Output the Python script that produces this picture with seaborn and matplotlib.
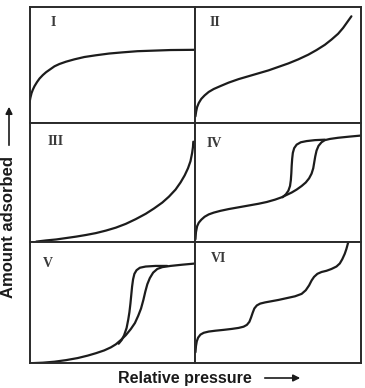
import matplotlib
matplotlib.use("Agg")
import matplotlib.pyplot as plt
import seaborn as sns
import pandas as pd

sns.set_style("white")
plt.rcParams['font.family'] = ['Liberation Sans', 'DejaVu Sans']

# ---- data (relative pressure 0..1, amount 0..1) ----
panel_labels = ["I", "II", "III", "IV", "V", "VI"]

I_x = [0.0, 0.005, 0.012, 0.02, 0.03, 0.045, 0.06, 0.08, 0.10, 0.125, 0.15, 0.18, 0.22,
       0.27, 0.33, 0.40, 0.48, 0.56, 0.65, 0.75, 0.85, 1.0]
I_y = [0.18, 0.22, 0.26, 0.29, 0.32, 0.355, 0.385, 0.415, 0.44, 0.465, 0.49, 0.51, 0.53,
       0.55, 0.57, 0.585, 0.60, 0.61, 0.62, 0.625, 0.63, 0.632]

II_x = [0.0, 0.004, 0.01, 0.02, 0.035, 0.055, 0.08, 0.11, 0.15, 0.20, 0.26, 0.32, 0.38,
        0.44, 0.50, 0.56, 0.62, 0.68, 0.73, 0.78, 0.82, 0.86, 0.89, 0.915, 0.94]
II_y = [0.06, 0.10, 0.14, 0.175, 0.21, 0.24, 0.27, 0.295, 0.32, 0.35, 0.38, 0.405, 0.43,
        0.455, 0.485, 0.515, 0.55, 0.59, 0.63, 0.675, 0.72, 0.77, 0.82, 0.87, 0.92]

III_x = [0.04, 0.10, 0.16, 0.22, 0.28, 0.34, 0.40, 0.46, 0.52, 0.58, 0.64, 0.70, 0.75, 0.80,
         0.84, 0.88, 0.91, 0.935, 0.955, 0.97, 0.98, 0.985, 0.987]
III_y = [0.0, 0.01, 0.018, 0.03, 0.042, 0.056, 0.072, 0.093, 0.118, 0.15, 0.19, 0.235, 0.28,
         0.33, 0.38, 0.44, 0.50, 0.56, 0.62, 0.68, 0.75, 0.80, 0.845]

IV_ads_x = [0.0, 0.003, 0.01, 0.02, 0.035, 0.055, 0.08, 0.11, 0.15, 0.20, 0.26, 0.32, 0.38,
            0.43, 0.48, 0.52, 0.55, 0.58, 0.61, 0.64, 0.665, 0.685, 0.70, 0.71, 0.716, 0.722,
            0.73, 0.742, 0.76, 0.78, 0.81, 0.86, 0.93, 1.0]
IV_ads_y = [0.02, 0.08, 0.13, 0.16, 0.185, 0.21, 0.23, 0.245, 0.26, 0.275, 0.29, 0.305, 0.32,
            0.335, 0.355, 0.375, 0.395, 0.415, 0.44, 0.47, 0.50, 0.535, 0.575, 0.62, 0.67, 0.72,
            0.77, 0.81, 0.84, 0.858, 0.868, 0.878, 0.888, 0.897]
IV_des_x = [0.78, 0.72, 0.67, 0.635, 0.61, 0.595, 0.587, 0.583, 0.58, 0.578, 0.575, 0.57,
            0.56, 0.545, 0.525]
IV_des_y = [0.862, 0.858, 0.85, 0.84, 0.82, 0.79, 0.75, 0.70, 0.64, 0.58, 0.52, 0.47,
            0.43, 0.40, 0.375]

V_ads_x = [0.01, 0.08, 0.15, 0.22, 0.29, 0.35, 0.40, 0.45, 0.49, 0.52, 0.55, 0.58, 0.61,
           0.635, 0.655, 0.672, 0.686, 0.698, 0.71, 0.725, 0.745, 0.77, 0.80, 0.85, 0.92, 1.0]
V_ads_y = [0.0, 0.004, 0.012, 0.025, 0.042, 0.062, 0.082, 0.105, 0.13, 0.155, 0.19, 0.23, 0.28,
           0.33, 0.39, 0.45, 0.52, 0.59, 0.65, 0.70, 0.745, 0.775, 0.79, 0.80, 0.81, 0.82]
V_des_x = [0.83, 0.76, 0.70, 0.665, 0.645, 0.632, 0.624, 0.618, 0.613, 0.608, 0.602, 0.595,
           0.585, 0.57, 0.555, 0.537]
V_des_y = [0.80, 0.80, 0.795, 0.785, 0.765, 0.735, 0.69, 0.63, 0.56, 0.49, 0.42, 0.36,
           0.29, 0.23, 0.19, 0.16]

VI_x = [0.0, 0.003, 0.008, 0.016, 0.03, 0.05, 0.08, 0.12, 0.17, 0.22, 0.26, 0.29, 0.31, 0.325,
        0.335, 0.345, 0.355, 0.37, 0.39, 0.42, 0.46, 0.50, 0.55, 0.60, 0.64, 0.665, 0.685, 0.70,
        0.715, 0.735, 0.76, 0.79, 0.82, 0.85, 0.87, 0.885, 0.90, 0.91, 0.918, 0.922]
VI_y = [0.09, 0.14, 0.18, 0.21, 0.235, 0.25, 0.26, 0.267, 0.274, 0.282, 0.29, 0.30, 0.315, 0.34,
        0.375, 0.415, 0.45, 0.475, 0.49, 0.50, 0.51, 0.52, 0.535, 0.55, 0.57, 0.60, 0.64, 0.68,
        0.71, 0.735, 0.75, 0.76, 0.775, 0.795, 0.82, 0.855, 0.90, 0.94, 0.98, 1.0]

curves = [
    [(I_x, I_y)],
    [(II_x, II_y)],
    [(III_x, III_y)],
    [(IV_ads_x, IV_ads_y), (IV_des_x, IV_des_y)],
    [(V_ads_x, V_ads_y), (V_des_x, V_des_y)],
    [(VI_x, VI_y)],
]
label_pos = [(0.14, 0.865), (0.115, 0.865), (0.16, 0.845), (0.115, 0.83), (0.11, 0.82), (0.14, 0.86)]

# ---- figure ----
fig, axes = plt.subplots(3, 2, figsize=(3.65, 3.88), dpi=100,
                         gridspec_kw=dict(height_ratios=[116.3, 118.2, 121.5]))
fig.subplots_adjust(left=0.081, right=0.990, top=0.982, bottom=0.064, wspace=0, hspace=0)

line_color = "#1c1c1c"
for i, ax in enumerate(axes.flat):
    for cx, cy in curves[i]:
        df = pd.DataFrame({"p": cx, "n": cy})
        sns.lineplot(data=df, x="p", y="n", sort=False, ax=ax,
                     color=line_color, lw=1.6, estimator=None)
    ax.set_xlim(0, 1)
    ax.set_ylim(0, 1)
    ax.set_xticks([])
    ax.set_yticks([])
    ax.set_xlabel("")
    ax.set_ylabel("")
    for s in ax.spines.values():
        s.set_visible(True)
        s.set_color("#2a2a2a")
        s.set_linewidth(1.4)
    lx, ly = label_pos[i]
    ax.text(lx, ly, panel_labels[i], transform=ax.transAxes, ha="center", va="center",
            fontsize=10, fontweight="bold", family=["Liberation Serif", "DejaVu Serif"],
            color="#3a3a3a")

# axis captions with arrows
fig.text(118 / 365, 1 - 378 / 388, "Relative pressure", ha="left", va="center",
         fontsize=11.5, fontweight="bold", color="#1a1a1a")
fig.add_artist(matplotlib.patches.FancyArrowPatch(
    (262 / 365, 1 - 378 / 388), (303 / 365, 1 - 378 / 388), transform=fig.transFigure,
    arrowstyle="-|>,head_length=4,head_width=2", color="#1a1a1a", lw=1.2))

fig.text(9 / 365, 1 - 227 / 388, "Amount adsorbed", ha="center", va="center",
         rotation=90, fontsize=12, fontweight="bold", color="#1a1a1a")
fig.add_artist(matplotlib.patches.FancyArrowPatch(
    (9 / 365, 1 - 148 / 388), (9 / 365, 1 - 104 / 388), transform=fig.transFigure,
    arrowstyle="-|>,head_length=4,head_width=2", color="#1a1a1a", lw=1.2))

fig.savefig("out.png", dpi=100)
